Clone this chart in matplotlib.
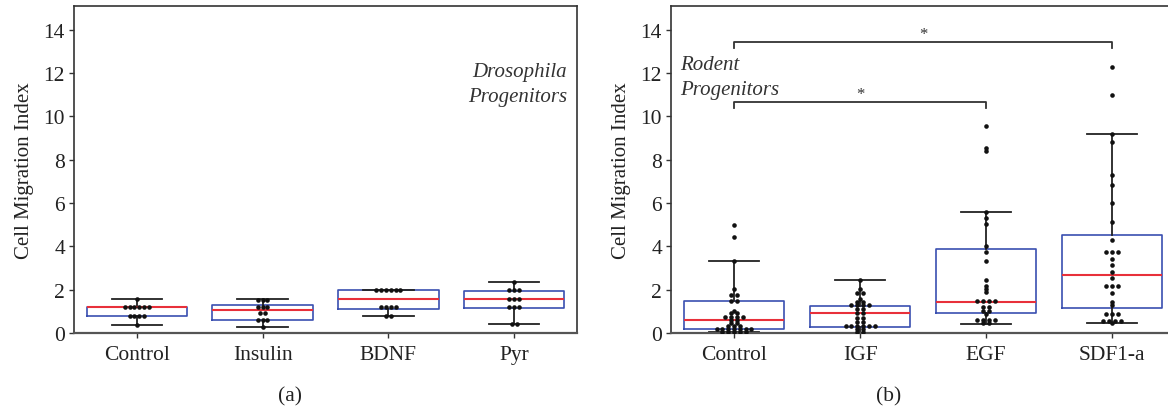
"""
Cell migration index box plots, Drosophila (a) and rodent (b) progenitors
"""

import numpy as np
import matplotlib
matplotlib.use("Agg")
import matplotlib.pyplot as plt

plt.rcParams['font.family'] = ['Liberation Serif', 'DejaVu Serif']

#------------------------------------------------------------------------
# data
#------------------------------------------------------------------------
labels_a = ["Control", "Insulin", "BDNF", "Pyr"]
q1_a = [0.80, 0.62, 1.13, 1.16]
med_a = [1.19, 1.08, 1.58, 1.55]
q3_a = [1.19, 1.27, 1.97, 1.93]
lo_a = [0.38, 0.30, 0.80, 0.40]
hi_a = [1.57, 1.55, 1.98, 2.35]

ctrl_a = [1.57, 1.19, 1.19, 1.19, 1.19, 1.19, 1.19, 0.78, 0.78, 0.78, 0.78, 0.38]
ins_a = [1.53, 1.53, 1.53, 1.22, 1.22, 1.22, 0.91, 0.91, 0.61, 0.61, 0.61, 0.30]
bdnf_a = [1.98, 1.98, 1.98, 1.98, 1.98, 1.98, 1.19, 1.19, 1.19, 1.19, 0.80, 0.80]
pyr_a = [2.35, 1.97, 1.97, 1.97, 1.57, 1.57, 1.57, 1.19, 1.19, 1.19, 0.40, 0.40]

labels_b = ["Control", "IGF", "EGF", "SDF1-a"]
q1_b = [0.17, 0.30, 0.91, 1.14]
med_b = [0.59, 0.92, 1.45, 2.69]
q3_b = [1.49, 1.26, 3.87, 4.54]
lo_b = [0.05, 0.00, 0.43, 0.45]
hi_b = [3.31, 2.46, 5.59, 9.18]

ctrl_b = [5.00, 4.41, 3.31, 2.05, 1.75, 1.75, 1.49, 1.49, 1.03, 0.91, 0.91,
          0.75, 0.75, 0.75, 0.75, 0.60, 0.60, 0.45, 0.45, 0.32, 0.32, 0.32,
          0.18, 0.18, 0.18, 0.18, 0.18, 0.18, 0.18,
          0.06, 0.06, 0.06, 0.06, 0.06]
igf_b = [2.45, 2.03, 1.85, 1.85, 1.57, 1.42, 1.42, 1.29, 1.29, 1.29, 1.29,
         1.11, 1.11, 0.91, 0.91, 0.68, 0.68, 0.49, 0.49,
         0.31, 0.31, 0.31, 0.31, 0.31, 0.31, 0.18, 0.18, 0.03, 0.03]
egf_b = [9.55, 8.55, 8.40, 5.60, 5.33, 5.02, 4.03, 3.75, 3.32, 2.47, 2.18,
         2.03, 1.88, 1.49, 1.49, 1.49, 1.49, 1.18, 1.18, 1.00, 1.00, 0.88,
         0.62, 0.62, 0.62, 0.62, 0.45, 0.45]
sdf_b = [12.28, 10.97, 9.18, 8.84, 7.30, 6.85, 5.99, 5.14, 4.30,
         3.72, 3.72, 3.72, 3.42, 3.16, 2.83, 2.53, 2.16, 2.16, 2.16, 1.85,
         1.45, 1.28, 0.88, 0.88, 0.88, 0.57, 0.57, 0.57, 0.57, 0.45]

# significance brackets in panel b: (from group, to group, height, star height)
brackets = [(1, 4, 13.45, 13.95), (1, 3, 10.68, 11.2)]

box_col = '#3a4fb0'
med_col = '#e8303a'
line_col = '#222222'
dot_col = '#111111'


def row_spread(vals, sp):
    # equal values sit in one row, centred on the group position (pixels)
    vals = np.asarray(vals)
    offs = np.zeros(len(vals))
    for v in np.unique(vals):
        idx = np.where(vals == v)[0]
        n = len(idx)
        offs[idx] = (np.arange(n) - (n - 1) / 2.0) * sp
    return offs


def make_panel(ax, labels, q1, med, q3, lo, hi, groups, sp):
    stats = []
    for k in range(len(labels)):
        stats.append(dict(med=med[k], q1=q1[k], q3=q3[k], whislo=lo[k],
                          whishi=hi[k], fliers=[]))
    pos = np.arange(1, len(labels) + 1)
    ax.bxp(stats, positions=pos, widths=0.8, capwidths=0.4, showfliers=False,
           boxprops=dict(color=box_col, lw=1.2),
           medianprops=dict(color=med_col, lw=1.5),
           whiskerprops=dict(color=line_col, lw=1.3),
           capprops=dict(color=line_col, lw=1.3))
    # 126 px per group on the x axis
    for k, vals in enumerate(groups):
        vals = np.array(vals)
        dx = row_spread(vals, sp) / 126.0
        ax.plot(pos[k] + dx, vals, 'o', color=dot_col, ms=3.3, mew=0, zorder=5)

    ax.set_xlim(0.5, 4.5)
    ax.set_ylim(0, 15.1)
    ax.set_yticks(np.arange(0, 15, 2))
    ax.set_xticks(pos)
    ax.set_xticklabels(labels)
    ax.tick_params(axis='both', labelsize=15.5, color='#333333', length=3.5,
                   width=1.0, direction='out', labelcolor='#222222')
    ax.tick_params(axis='x', pad=5)
    ax.tick_params(axis='y', pad=3)
    for s in ['top', 'left', 'right']:
        ax.spines[s].set_color('#333333')
        ax.spines[s].set_linewidth(1.2)
    ax.spines['bottom'].set_color('#555555')
    ax.spines['bottom'].set_linewidth(1.6)
    ax.set_ylabel("Cell Migration Index", fontsize=15, labelpad=7,
                  color='#222222')


fig = plt.figure(figsize=(11.68, 4.10), dpi=100)
ax1 = fig.add_axes([74 / 1168, 76 / 410, 503 / 1168, 327 / 410])
ax2 = fig.add_axes([671 / 1168, 76 / 410, 504 / 1168, 327 / 410])

make_panel(ax1, labels_a, q1_a, med_a, q3_a, lo_a, hi_a,
           [ctrl_a, ins_a, bdnf_a, pyr_a], 4.8)
make_panel(ax2, labels_b, q1_b, med_b, q3_b, lo_b, hi_b,
           [ctrl_b, igf_b, egf_b, sdf_b], 5.8)

ax1.text(4.42, 11.89, "Drosophila", style='italic', fontsize=15, ha='right',
         va='baseline', color='#333333')
ax1.text(4.42, 10.73, "Progenitors", style='italic', fontsize=15, ha='right',
         va='baseline', color='#333333')
ax2.text(0.575, 12.2, "Rodent", style='italic', fontsize=15, ha='left',
         va='baseline', color='#333333')
ax2.text(0.575, 11.04, "Progenitors", style='italic', fontsize=15, ha='left',
         va='baseline', color='#333333')

for g1, g2, h, hs in brackets:
    ax2.plot([g1, g1, g2, g2], [h - 0.3, h, h, h - 0.3], color='#333333',
             lw=1.3, zorder=4)
    ax2.text((g1 + g2) / 2, hs - 0.15, "*", fontsize=12, ha='center',
             va='center', color='#333333')

fig.text(290 / 1168, 1 - 397 / 410, "(a)", fontsize=15.5, ha='center',
         va='center', color='#222222')
fig.text(889 / 1168, 1 - 397 / 410, "(b)", fontsize=15.5, ha='center',
         va='center', color='#222222')

fig.savefig("out.png", dpi=100)
